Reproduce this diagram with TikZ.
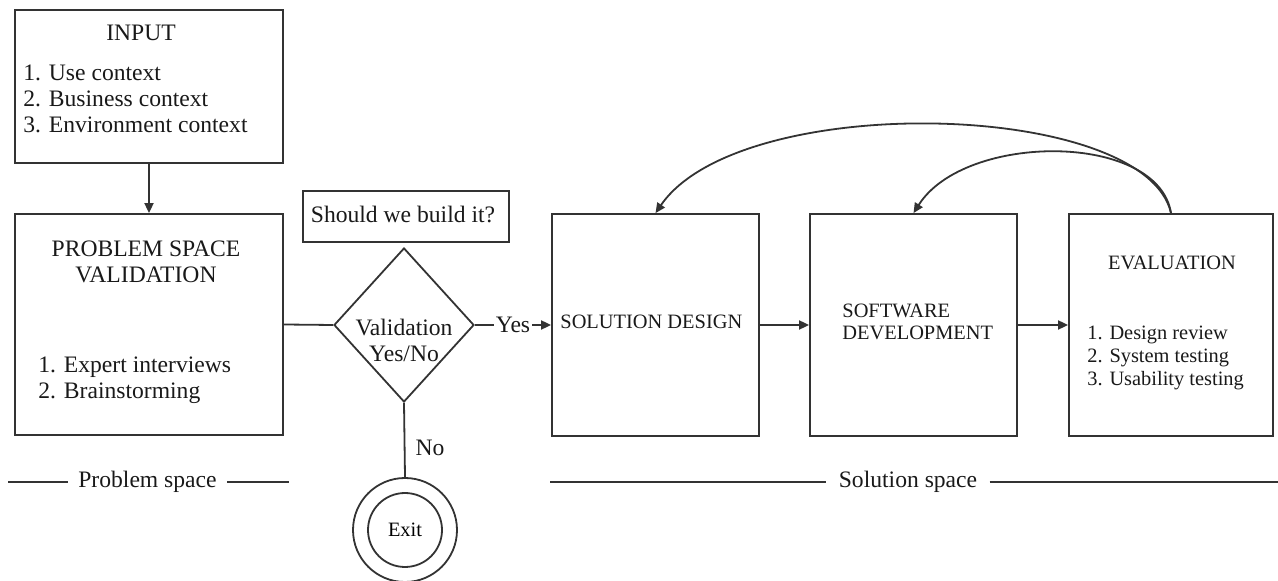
\documentclass[tikz,border=0pt]{standalone}
\usepackage{fontspec}
\setmainfont{Liberation Serif}
\usetikzlibrary{shapes.geometric,arrows.meta}
\newcommand\myBig{\fontsize{11.8}{13}\selectfont}
\newcommand\mySmall{\fontsize{10.2}{11.3}\selectfont}
\tikzset{
  box/.style={draw=black!80, line width=0.9pt, rectangle, inner sep=0pt},
  conn/.style={draw=black!80, line width=0.9pt},
  arr/.style={conn, -{Triangle[length=5pt,width=4.5pt]}},
  txt/.style={inner sep=0pt, text=black!90, font=\myBig},
  stxt/.style={inner sep=0pt, text=black!90, font=\mySmall},
}
\begin{document}
\begin{tikzpicture}[x=0.5pt,y=-0.5pt]
\useasboundingbox (0,0) rectangle (1278,581);
% boxes
\node[box, minimum width=134pt, minimum height=76.5pt] (input) at (149,86.5) {};
\node[box, minimum width=134pt, minimum height=110.5pt] (psv) at (149,324.5) {};
\node[box, minimum width=103pt, minimum height=25.5pt] (should) at (406,216.5) {};
\node[draw=black!80, line width=0.9pt, diamond, minimum width=70pt, minimum height=77pt, inner sep=0pt] (dia) at (404,325) {};
\node[box, minimum width=103.5pt, minimum height=111pt] (sd) at (655.5,325) {};
\node[box, minimum width=103.5pt, minimum height=111pt] (sw) at (913.5,325) {};
\node[box, minimum width=102pt, minimum height=111pt] (ev) at (1171,325) {};
\node[draw=black!80, line width=0.9pt, circle, minimum size=52pt, inner sep=0pt] (exit) at (405,530) {};
\node[draw=black!80, line width=0.9pt, circle, minimum size=37pt, inner sep=0pt, font=\mySmall] (exitin) at (405,530) {Exit};
% texts
\node[txt] (tin) at (141,33) {INPUT};
\node[txt, anchor=west, align=left] (lin) at (23,99) {1. Use context\\2. Business context\\3. Environment context};
\node[txt, align=center] (tpsv) at (146,262) {PROBLEM SPACE\\VALIDATION};
\node[txt, anchor=west, align=left] (lpsv) at (38,380) {1. Expert interviews\\2. Brainstorming};
\node[txt] (tshould) at (403,214) {Should we build it?};
\node[txt, align=center] (tdia) at (404,340) {Validation\\Yes/No};
\node[stxt, anchor=west] (tsd) at (560,322) {SOLUTION DESIGN};
\node[stxt, anchor=west, align=left] (tsw) at (842,322) {SOFTWARE\\DEVELOPMENT};
\node[stxt] (tev) at (1172,263) {EVALUATION};
\node[stxt, anchor=west, align=left] (lev) at (1087,358) {1. Design review\\2. System testing\\3. Usability testing};
% connectors
\draw[arr] (input.south) -- (psv.north);
\draw[conn] (psv.east) -- (dia.west);
\draw[arr] (dia.east) -- node[txt, fill=white, inner xsep=1pt, inner ysep=2pt, pos=0.5] {Yes} (sd.west);
\draw[arr] (sd.east) -- (sw.west);
\draw[arr] (sw.east) -- (ev.west);
\draw[conn] (dia.south) -- node[txt, pos=0.6, right=5pt] {No} (exit.north);
\draw[arr] (ev.north) .. controls (1145,100) and (740,90) .. (sd.north);
\draw[arr] (ev.north) .. controls (1158,132) and (965,132) .. (sw.north);
% space labels
\node[txt, inner xsep=5pt] (pspace) at (147.5,482) {Problem space};
\node[txt, inner xsep=6pt] (sspace) at (908,482) {Solution space};
\coordinate (pl) at (8,482);
\coordinate (pr) at (289,482);
\coordinate (sl) at (550,482);
\coordinate (sr) at (1278,482);
\draw[conn] (pl) -- (pspace.west);
\draw[conn] (pspace.east) -- (pr);
\draw[conn] (sl) -- (sspace.west);
\draw[conn] (sspace.east) -- (sr);
\end{tikzpicture}
\end{document}
